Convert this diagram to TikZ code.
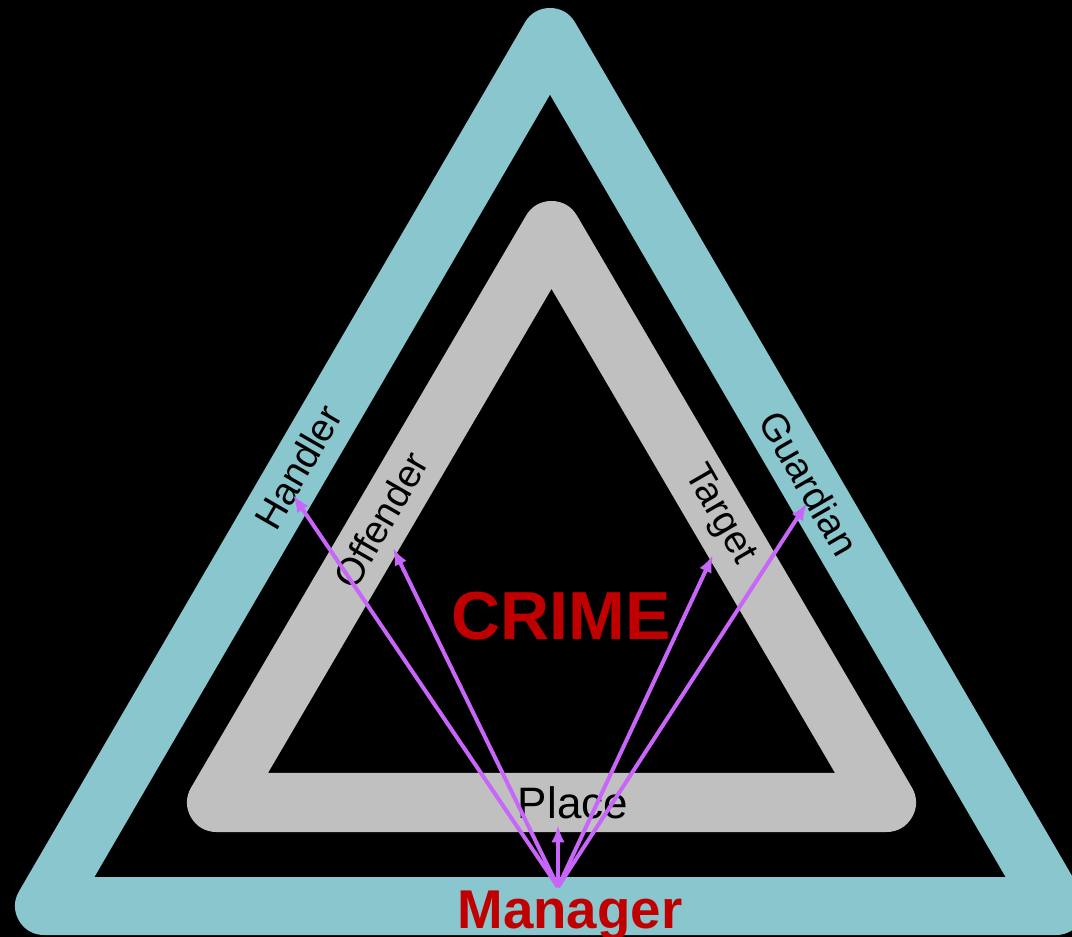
\documentclass[tikz,border=0pt]{standalone}
\usepackage{fontspec}
\setmainfont{Liberation Sans}
\usetikzlibrary{arrows.meta}
\definecolor{bandTeal}{HTML}{8AC6CE}
\definecolor{bandGrey}{HTML}{C0C0C0}
\definecolor{crimeRed}{HTML}{C00000}
\definecolor{linkPurple}{HTML}{C866FA}
\tikzset{>={Latex[length=13pt,width=10pt]},
  band/.style={line width=#1,line join=round},
  sidelab/.style={font=\fontsize{29}{30}\selectfont,text=black,inner sep=0pt},
  placelab/.style={font=\fontsize{33}{34}\selectfont,text=black,inner sep=0pt,anchor=base},
  redlab/.style={font=\bfseries,text=crimeRed,inner sep=0pt,anchor=base},
  link/.style={->,linkPurple,line width=3pt}}
\begin{document}
\begin{tikzpicture}[x=0.75pt,y=-0.75pt]
\useasboundingbox (0,0) rectangle (1072,937);
\clip (0,0) rectangle (1072,937);
\fill[black] (0,0) rectangle (1072,937);
% the two bands
\draw[band=43.5pt,bandTeal] (44,906) -- (550,37) -- (1056,906) -- cycle;
\draw[band=44.25pt,bandGrey] (216.5,802.5) -- (551.5,230.5) -- (886.5,802.5) -- cycle;
% labels
\node[sidelab,rotate=60] (handler) at (298,467) {Handler};
\node[sidelab,rotate=60] (offender) at (381,520) {Offender};
\node[sidelab,rotate=-60] (target) at (719,515) {Target};
\node[sidelab,rotate=-60] (guardian) at (809,483) {Guardian};
\node[placelab] (place) at (573,818) {Place};
\node[redlab,font=\fontsize{51}{52}\selectfont\bfseries] (crime) at (561,640) {CRIME};
\node[redlab,font=\fontsize{41}{42}\selectfont\bfseries] (manager) at (570,928) {Manager};
% arrows out of the manager
\coordinate (mgrSrc) at (558,887);
\coordinate (handlerTip) at (293,495);
\coordinate (offenderTip) at (393,548);
\coordinate (targetTip) at (713,555);
\coordinate (guardianTip) at (807,503);
\coordinate (placeTip) at (558,825);
\draw[link] (mgrSrc) -- (handlerTip);
\draw[link] (mgrSrc) -- (offenderTip);
\draw[link] (mgrSrc) -- (targetTip);
\draw[link] (mgrSrc) -- (guardianTip);
\draw[link] (mgrSrc) -- (placeTip);
\end{tikzpicture}
\end{document}
